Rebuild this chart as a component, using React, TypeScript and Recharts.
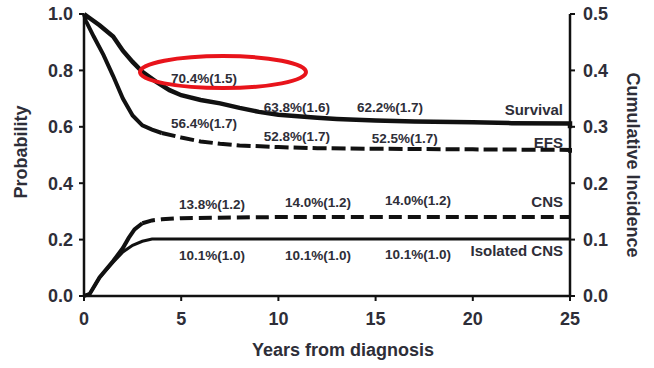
import { LineChart, Line, XAxis, YAxis, ReferenceDot, Label } from "recharts"

// Survival (left axis)
const survivalYears = [0, 0.3, 0.8, 1.5, 2, 2.5, 3, 3.7, 4.4, 5, 6, 7, 8, 9, 10, 11, 12, 13, 15, 17, 20, 22, 25, 25]
const survivalValues = [1.0, 0.985, 0.96, 0.92, 0.87, 0.83, 0.795, 0.76, 0.73, 0.712, 0.695, 0.683, 0.667, 0.653, 0.643, 0.637, 0.632, 0.628, 0.622, 0.619, 0.616, 0.613, 0.612, 0.595]

// EFS (left axis)
const efsYears = [0, 0.1, 0.5, 1, 1.5, 2, 2.5, 3, 3.5, 4, 5, 6, 7, 8, 10, 12, 15, 20, 25, 25]
const efsValues = [1.0, 0.975, 0.92, 0.855, 0.78, 0.7, 0.64, 0.605, 0.59, 0.578, 0.562, 0.548, 0.54, 0.534, 0.528, 0.524, 0.522, 0.52, 0.518, 0.508]

// CNS cumulative incidence (right axis)
const cnsYears = [0, 0.3, 0.8, 1.5, 2, 2.3, 2.6, 3, 3.5, 4, 5, 10, 15, 25]
const cnsValues = [0, 0.004, 0.033, 0.062, 0.085, 0.103, 0.118, 0.129, 0.134, 0.136, 0.138, 0.14, 0.14, 0.14]

// Isolated CNS cumulative incidence (right axis)
const isoYears = [0, 0.3, 0.8, 1.5, 2, 2.5, 3, 3.5, 25]
const isoValues = [0, 0.004, 0.033, 0.06, 0.078, 0.09, 0.097, 0.101, 0.101]

const xTicks = [0, 5, 10, 15, 20, 25]
const leftTicks = [0, 0.2, 0.4, 0.6, 0.8, 1.0]
const rightTicks = [0, 0.1, 0.2, 0.3, 0.4, 0.5]

// estimate labels (placed in left-axis units)
const noteTexts = ["70.4%(1.5)", "56.4%(1.7)", "63.8%(1.6)", "62.2%(1.7)", "52.8%(1.7)", "52.5%(1.7)", "13.8%(1.2)", "14.0%(1.2)", "14.0%(1.2)", "10.1%(1.0)", "10.1%(1.0)", "10.1%(1.0)"]
const noteX = [6.17, 6.17, 10.95, 15.74, 10.95, 16.5, 6.58, 12.04, 17.18, 6.58, 12.04, 17.18]
const noteY = [0.773, 0.613, 0.67, 0.667, 0.564, 0.56, 0.323, 0.333, 0.337, 0.145, 0.145, 0.146]

// curve names, right aligned
const nameTexts = ["Survival", "EFS", "CNS", "Isolated CNS"]
const nameY = [0.66, 0.543, 0.335, 0.163]
const nameX = 24.64

const toPoints = (xs: number[], ys: number[]) => xs.map((t, i) => ({ t, v: ys[i] }))

// early steep parts of the dashed curves look solid in the original (dense steps)
const efsPts = toPoints(efsYears, efsValues)
const cnsPts = toPoints(cnsYears, cnsValues)
const efsEarly = efsPts.filter(p => p.t <= 4)
const efsLate = efsPts.filter(p => p.t >= 4)
const cnsEarly = cnsPts.filter(p => p.t <= 3)
const cnsLate = cnsPts.filter(p => p.t >= 3)

const FONT = "'Liberation Sans', Arial, sans-serif"
const TEXT = "#2e2e38"
const tickStyle = { fill: TEXT, fontSize: 18, fontWeight: 700, fontFamily: FONT }
const axisLine = { stroke: "#111", strokeWidth: 2.5 }
const tickLine = { stroke: "#111", strokeWidth: 2 }

export default function App() {
    return (
        <div style={{ position: "absolute", left: 0, top: 0, background: "#fff" }}>
            <LineChart width={654} height={368} margin={{ top: 14, right: 0, bottom: 0, left: 0 }}>
                <XAxis
                    type="number"
                    dataKey="t"
                    domain={[0, 25]}
                    ticks={xTicks}
                    height={72}
                    tick={tickStyle}
                    tickSize={5}
                    tickMargin={11}
                    axisLine={axisLine}
                    tickLine={tickLine}
                    allowDuplicatedCategory={false}
                >
                    <Label
                        content={({ viewBox }: any) => (
                            <text x={343} y={viewBox.y + 54} textAnchor="middle" dominantBaseline="central"
                                fill={TEXT} fontSize={18} fontWeight={700} fontFamily={FONT}>
                                Years from diagnosis
                            </text>
                        )}
                    />
                </XAxis>
                <YAxis
                    yAxisId="left"
                    domain={[0, 1]}
                    ticks={leftTicks}
                    width={84}
                    tick={tickStyle}
                    tickFormatter={(v: number) => v.toFixed(1)}
                    tickSize={5}
                    tickMargin={6}
                    axisLine={axisLine}
                    tickLine={tickLine}
                >
                    <Label
                        content={({ viewBox }: any) => {
                            const cx = viewBox.x + 21
                            const cy = viewBox.y + viewBox.height / 2 - 3
                            return (
                                <text x={cx} y={cy} transform={`rotate(-90 ${cx} ${cy})`} textAnchor="middle"
                                    dominantBaseline="central" fill={TEXT} fontSize={18} fontWeight={700} fontFamily={FONT}>
                                    Probability
                                </text>
                            )
                        }}
                    />
                </YAxis>
                <YAxis
                    yAxisId="right"
                    orientation="right"
                    domain={[0, 0.5]}
                    ticks={rightTicks}
                    width={84}
                    tick={tickStyle}
                    tickFormatter={(v: number) => v.toFixed(1)}
                    tickSize={5}
                    tickMargin={8}
                    axisLine={axisLine}
                    tickLine={tickLine}
                >
                    <Label
                        content={({ viewBox }: any) => {
                            const cx = viewBox.x + 63
                            const cy = viewBox.y + viewBox.height / 2 + 10
                            return (
                                <text x={cx} y={cy} transform={`rotate(90 ${cx} ${cy})`} textAnchor="middle"
                                    dominantBaseline="central" fill={TEXT} fontSize={18} fontWeight={700} fontFamily={FONT}>
                                    Cumulative Incidence
                                </text>
                            )
                        }}
                    />
                </YAxis>

                <Line yAxisId="left" data={toPoints(survivalYears, survivalValues)} dataKey="v" type="linear"
                    stroke="#111" strokeWidth={4.5} dot={false} isAnimationActive={false} />
                <Line yAxisId="left" data={efsEarly} dataKey="v" type="linear"
                    stroke="#111" strokeWidth={4} dot={false} isAnimationActive={false} />
                <Line yAxisId="left" data={efsLate} dataKey="v" type="linear"
                    stroke="#111" strokeWidth={4} strokeDasharray="14 5" dot={false} isAnimationActive={false} />
                <Line yAxisId="right" data={cnsEarly} dataKey="v" type="linear"
                    stroke="#111" strokeWidth={4} dot={false} isAnimationActive={false} />
                <Line yAxisId="right" data={cnsLate} dataKey="v" type="linear"
                    stroke="#111" strokeWidth={4} strokeDasharray="13 6" dot={false} isAnimationActive={false} />
                <Line yAxisId="right" data={toPoints(isoYears, isoValues)} dataKey="v" type="linear"
                    stroke="#111" strokeWidth={3} dot={false} isAnimationActive={false} />

                {noteTexts.map((txt, i) => (
                    <ReferenceDot
                        key={`note-${i}`}
                        yAxisId="left"
                        x={noteX[i]}
                        y={noteY[i]}
                        r={0}
                        shape={(p: any) => (
                            <text x={p.cx} y={p.cy} textAnchor="middle" dominantBaseline="central"
                                fill={TEXT} fontSize={13.5} fontWeight={700} fontFamily={FONT}>
                                {txt}
                            </text>
                        )}
                    />
                ))}
                {nameTexts.map((txt, i) => (
                    <ReferenceDot
                        key={`name-${i}`}
                        yAxisId="left"
                        x={nameX}
                        y={nameY[i]}
                        r={0}
                        shape={(p: any) => (
                            <text x={p.cx} y={p.cy} textAnchor="end" dominantBaseline="central"
                                fill={TEXT} fontSize={15} fontWeight={700} fontFamily={FONT}>
                                {txt}
                            </text>
                        )}
                    />
                ))}
                {/* red highlight around the 5-year survival estimate */}
                <ReferenceDot
                    yAxisId="left"
                    x={7.15}
                    y={0.794}
                    r={0}
                    shape={(p: any) => (
                        <ellipse cx={p.cx} cy={p.cy} rx={83} ry={16} fill="none" stroke="#e8141b" strokeWidth={4} />
                    )}
                />
            </LineChart>
        </div>
    )
}
